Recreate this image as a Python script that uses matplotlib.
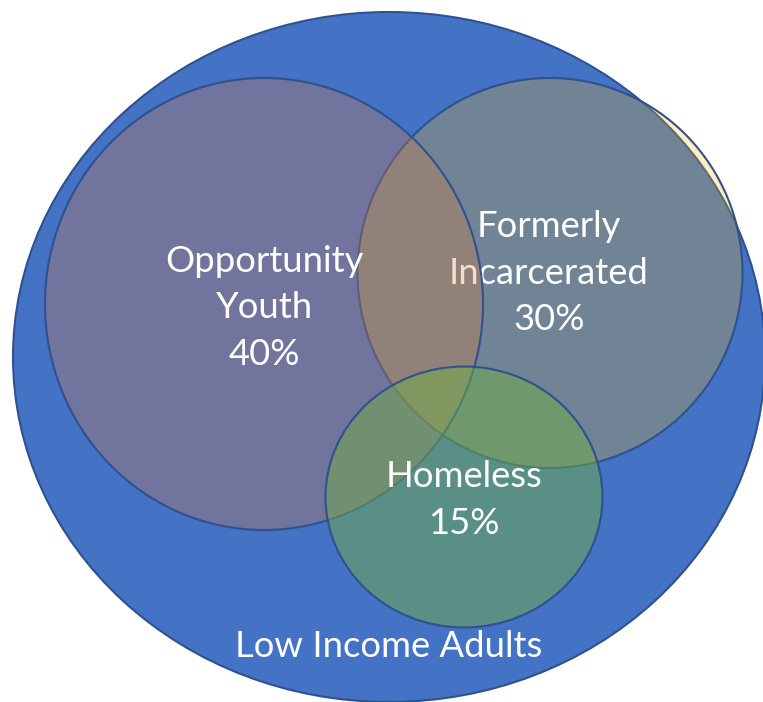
import matplotlib
matplotlib.use("Agg")
import matplotlib.pyplot as plt
from matplotlib.patches import Ellipse


# chart content
GROUP_NAMES = [["Opportunity", "Youth"], ["Formerly", "Incarcerated"], ["Homeless"]]
GROUP_SHARES = [40, 30, 15]
BASE_LABEL = "Low Income Adults"

# office-style palette: fill, alpha
GROUP_COLORS = ["#ED7D31", "#FFC000", "#70AD47"]
GROUP_ALPHAS = [0.27, 0.24, 0.5]
BASE_COLOR = "#4472C4"
EDGE_COLOR = "#2F528F"

# layout in pixel coordinates (x, y from top-left), width, height
BASE_SHAPE = (389, 357, 752, 690)
GROUP_SHAPES = [
    (264, 304, 438, 452),
    (550, 273, 385, 390),
    (464, 497, 277, 261),
]
GROUP_TEXT_POS = [(264, 272), (549, 237), (464, 487)]
LINE_STEP = 46.5
FONT = "Lato"
FONT_SIZE = 26.2

# drawing order: FI first so its text sits under the OY fill
DRAW_ORDER = [1, 0, 2]


def main():
    fig = plt.figure(figsize=(7.63, 7.02), dpi=100)
    ax = fig.add_axes([0, 0, 1, 1])
    ax.set_xlim(0, 763)
    ax.set_ylim(702, 0)
    ax.axis("off")

    cx, cy, w, h = BASE_SHAPE
    ax.add_patch(Ellipse((cx, cy), w, h, facecolor=BASE_COLOR,
                         edgecolor=EDGE_COLOR, lw=1.5, zorder=1))
    ax.text(cx, 657, BASE_LABEL, ha="center", va="baseline", color="white",
            fontsize=FONT_SIZE, family=FONT, zorder=2)

    z = 3
    for i in DRAW_ORDER:
        cx, cy, w, h = GROUP_SHAPES[i]
        face = matplotlib.colors.to_rgba(GROUP_COLORS[i], GROUP_ALPHAS[i])
        ax.add_patch(Ellipse((cx, cy), w, h, facecolor=face,
                             edgecolor=EDGE_COLOR, lw=1.5, zorder=z))
        lines = GROUP_NAMES[i] + [f"{GROUP_SHARES[i]}%"]
        tx, ty = GROUP_TEXT_POS[i]
        for k, line in enumerate(lines):
            ax.text(tx, ty + k * LINE_STEP, line, ha="center", va="baseline",
                    color="white", fontsize=FONT_SIZE, family=FONT, zorder=z + 1)
        z += 2

    fig.savefig("out.png", dpi=100, facecolor="white")


if __name__ == "__main__":
    main()
